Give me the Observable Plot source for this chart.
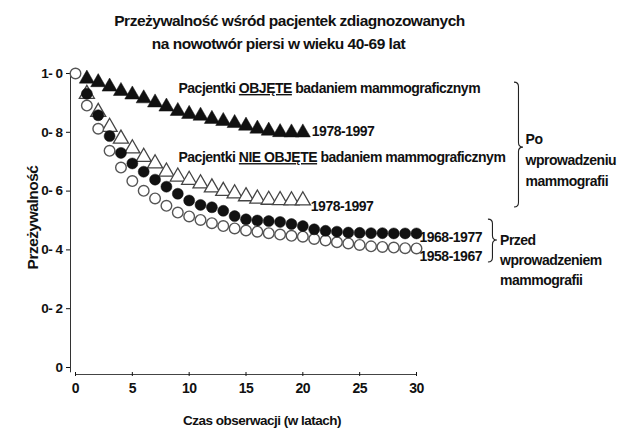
<!DOCTYPE html>
<html><head><meta charset="utf-8">
<script src="https://cdn.jsdelivr.net/npm/d3@7"></script>
<script src="https://cdn.jsdelivr.net/npm/@observablehq/plot@0.6"></script>
<style>body{margin:0;background:#fff;} svg{display:block}</style>
</head><body><div id="chart"></div>
<script>
// ---- data ----
const yearsA = [1,2,3,4,5,6,7,8,9,10,11,12,13,14,15,16,17,18,19,20];
const objete1978 = [0.982,0.970,0.955,0.940,0.928,0.915,0.901,0.887,0.872,0.862,0.856,0.845,0.838,0.831,0.822,0.812,0.805,0.800,0.799,0.799];
const nieObjete1978 = [0.930,0.869,0.818,0.778,0.745,0.716,0.694,0.666,0.649,0.638,0.626,0.612,0.600,0.592,0.582,0.574,0.570,0.569,0.568,0.568];
const yearsB = [1,2,3,4,5,6,7,8,9,10,11,12,13,14,15,16,17,18,19,20,21,22,23,24,25,26,27,28,29,30];
const cohort1968 = [0.931,0.858,0.787,0.730,0.694,0.666,0.639,0.615,0.591,0.568,0.553,0.545,0.533,0.515,0.504,0.500,0.498,0.495,0.488,0.481,0.470,0.465,0.462,0.459,0.458,0.457,0.457,0.456,0.456,0.456];
const yearsC = [0,1,2,3,4,5,6,7,8,9,10,11,12,13,14,15,16,17,18,19,20,21,22,23,24,25,26,27,28,29,30];
const cohort1958 = [1.0,0.891,0.812,0.737,0.680,0.634,0.601,0.575,0.550,0.527,0.514,0.502,0.491,0.481,0.473,0.466,0.462,0.457,0.452,0.448,0.445,0.437,0.432,0.426,0.422,0.417,0.412,0.410,0.408,0.406,0.405];
const seriesLabels = ["1978-1997","1978-1997","1968-1977","1958-1967"];
const xTicks = [0,5,10,15,20,25,30];
const yTicks = [0,0.2,0.4,0.6,0.8,1];
const yTickLabels = ["0","0- 2","0- 4","0- 6","0- 8","1- 0"];
const titleLines = ["Przeżywalność wśród pacjentek zdiagnozowanych","na nowotwór piersi w wieku 40-69 lat"];
const xLabel = "Czas obserwacji (w latach)";
const yLabel = "Przeżywalność";
const annObjete = ["Pacjentki ","OBJĘTE"," badaniem mammograficznym"];
const annNie = ["Pacjentki ","NIE OBJĘTE"," badaniem mammograficznym"];
const sideAfter = "Po\nwprowadzeniu\nmammografii";
const sideBefore = "Przed\nwprowadzeniem\nmammografii";

// ---- annotation layout (data units) ----
const annX = 9.06, annObjY = 0.949, annNieY = 0.714;
const sideAfterPos = {x: 39.6, y: 0.711};
const sideBeforePos = {x: 37.35, y: 0.371};
const braceBig = {x: 38.62, y1: 0.969, y2: 0.544, ym: 0.748};
const braceSmall = {x: 36.33, y1: 0.503, y2: 0.357, ym: 0.432};

const rows = (xs, vs) => xs.map((t, i) => ({t, v: vs[i]}));
const rObj = rows(yearsA, objete1978);
const rNie = rows(yearsA, nieObjete1978);
const r68 = rows(yearsB, cohort1968);
const r58 = rows(yearsC, cohort1958);

const FS = 14;
const chart = Plot.plot({
  width: 617, height: 429,
  marginLeft: 75, marginRight: 201, marginTop: 73, marginBottom: 62,
  style: {fontFamily: "'Liberation Sans', Arial, sans-serif", fontWeight: "bold", fontSize: "13px", letterSpacing: "-0.5px", color: "#111", background: "#fff"},
  x: {domain: [0, 30]},
  y: {domain: [0, 1]},
  marks: [
    Plot.ruleX([0], {y1: -0.018, y2: 1, dx: -5, stroke: "#333", strokeWidth: 1}),
    Plot.ruleY([0], {dy: 7, stroke: "#444", strokeWidth: 1}),
    Plot.axisY({ticks: yTicks, tickFormat: (d) => yTickLabels[yTicks.indexOf(d)], tickSize: 4, tickPadding: 4, dx: -5, label: null, fontSize: 13.5, fontWeight: "bold"}),
    Plot.axisX({ticks: xTicks, tickSize: 4, tickPadding: 7, dy: 5, label: null, fontSize: 14, fontWeight: "bold"}),
    Plot.text([yLabel], {frameAnchor: "left", rotate: -90, dx: -42, dy: -3, textAnchor: "middle", lineAnchor: "middle", fontSize: 15.5, text: d => d}),
    Plot.text([xLabel], {frameAnchor: "bottom", dy: 53, dx: 16, textAnchor: "middle", lineAnchor: "middle", fontSize: 13.5, text: d => d}),
    Plot.text([titleLines[0]], {frameAnchor: "top", dx: 43.5, dy: -52, lineAnchor: "middle", fontSize: 15.5, text: d => d}),
    Plot.text([titleLines[1]], {frameAnchor: "top", dx: 32.5, dy: -29, lineAnchor: "middle", fontSize: 15.5, text: d => d}),
    Plot.dot(rNie, {x: "t", y: "v", symbol: "triangle", r: 5.6, fill: "white", stroke: "#444", strokeWidth: 1.3}),
    Plot.dot(r58, {x: "t", y: "v", symbol: "circle", r: 5.3, fill: "white", stroke: "#555", strokeWidth: 1.4}),
    Plot.dot(r68, {x: "t", y: "v", symbol: "circle", r: 5.5, fill: "#111", stroke: "#111", strokeWidth: 0.5}),
    Plot.dot(rObj, {x: "t", y: "v", symbol: "triangle", r: 5.6, fill: "#111", stroke: "#111", strokeWidth: 0.5}),
    Plot.text([rObj[rObj.length - 1]], {x: "t", y: "v", text: () => seriesLabels[0], textAnchor: "start", dx: 9, dy: -1, fontSize: FS}),
    Plot.text([rNie[rNie.length - 1]], {x: "t", y: "v", text: () => seriesLabels[1], textAnchor: "start", dx: 8, dy: 6, fontSize: FS}),
    Plot.text([r68[r68.length - 1]], {x: "t", y: "v", text: () => seriesLabels[2], textAnchor: "start", dx: 3, dy: 4, fontSize: FS}),
    Plot.text([r58[r58.length - 1]], {x: "t", y: "v", text: () => seriesLabels[3], textAnchor: "start", dx: 3, dy: 8, fontSize: FS}),
    Plot.text([annObjete.join("")], {x: () => annX, y: () => annObjY, text: d => d, textAnchor: "start", fontSize: FS}),
    Plot.text([annNie.join("")], {x: () => annX, y: () => annNieY, text: d => d, textAnchor: "start", fontSize: FS}),
    Plot.text([sideAfter], {x: () => sideAfterPos.x, y: () => sideAfterPos.y, text: d => d, textAnchor: "start", lineHeight: 1.5, fontSize: FS}),
    Plot.text([sideBefore], {x: () => sideBeforePos.x, y: () => sideBeforePos.y, text: d => d, textAnchor: "start", lineHeight: 1.43, fontSize: FS})
  ]
});

// underline the key words
function underline(parts) {
  const full = parts.join("");
  d3.select(chart).selectAll("text").each(function() {
    if (this.textContent === full) {
      const t = d3.select(this);
      t.text(null);
      parts.forEach((p, i) => {
        const ts = t.append("tspan").text(p);
        if (i === 1) ts.style("text-decoration", "underline").style("text-decoration-thickness", "1.5px");
      });
    }
  });
}
underline(annObjete);
underline(annNie);

// braces
const sx = chart.scale("x"), sy = chart.scale("y");
const fx = d3.scaleLinear(sx.domain, sx.range);
const fy = d3.scaleLinear(sy.domain, sy.range);
function bracePath(b, w) {
  const x = fx(b.x), y1 = fy(b.y1), y2 = fy(b.y2), ym = fy(b.ym), h = w / 2;
  return `M${x},${y1} Q${x + h},${y1} ${x + h},${y1 + h} L${x + h},${ym - h} Q${x + h},${ym} ${x + w},${ym} Q${x + h},${ym} ${x + h},${ym + h} L${x + h},${y2 - h} Q${x + h},${y2} ${x},${y2}`;
}
const g = d3.select(chart).append("g").attr("fill", "none").attr("stroke", "#222").attr("stroke-width", 1.1);
g.append("path").attr("d", bracePath(braceBig, 9));
g.append("path").attr("d", bracePath(braceSmall, 9));

document.getElementById("chart").appendChild(chart);
</script>
</body></html>
